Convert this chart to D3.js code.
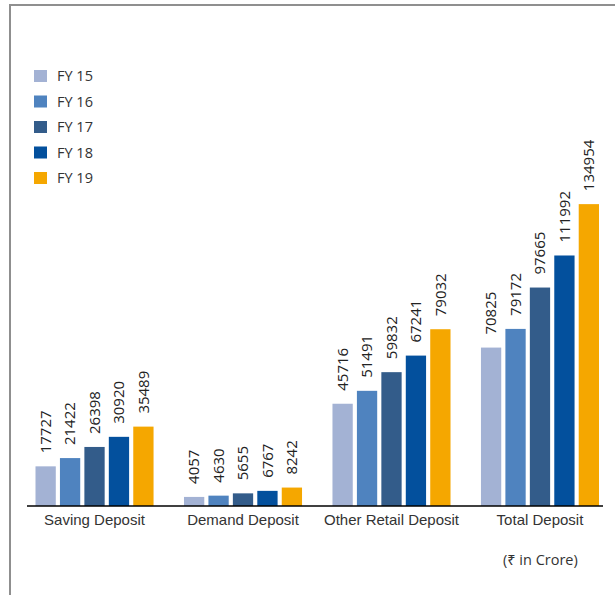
<!DOCTYPE html>
<html>
<head>
<meta charset="utf-8">
<script src="https://cdn.jsdelivr.net/npm/d3@7"></script>
<style>
  html, body { margin: 0; padding: 0; background: #fff; }
  svg { display: block; font-family: "Open Sans", "Noto Sans", "DejaVu Sans", sans-serif; }
</style>
</head>
<body>
<svg id="chart" width="615" height="595"></svg>
<script>
const categories = ["Saving Deposit", "Demand Deposit", "Other Retail Deposit", "Total Deposit"];
const seriesNames = ["FY 15", "FY 16", "FY 17", "FY 18", "FY 19"];
const fy15 = [17727, 4057, 45716, 70825];
const fy16 = [21422, 4630, 51491, 79172];
const fy17 = [26398, 5655, 59832, 97665];
const fy18 = [30920, 6767, 67241, 111992];
const fy19 = [35489, 8242, 79032, 134954];
const seriesValues = [fy15, fy16, fy17, fy18, fy19];
const colors = ["#a3b2d4", "#4f83bf", "#335c8a", "#03509d", "#f5a700"];
const unitNote = "(₹ in Crore)";

const svg = d3.select("#chart");

// frame
svg.append("path")
  .attr("d", "M10,595 L10,5 L615,5")
  .attr("fill", "none")
  .attr("stroke", "#8f8f8f")
  .attr("stroke-width", 2);

const baseY = 506;
const x0 = d3.scaleBand().domain(categories).range([35.5, 599]).paddingInner(0.205).paddingOuter(0);
const x1 = d3.scaleBand().domain(seriesNames).range([0, x0.bandwidth()]).paddingInner(0.17).paddingOuter(0);
const y = d3.scaleLinear().domain([0, 152000]).range([baseY, 166]);

const data = [];
categories.forEach((c, i) => {
  seriesNames.forEach((s, j) => {
    data.push({ cat: c, series: s, value: seriesValues[j][i], color: colors[j] });
  });
});

const g = svg.append("g");
g.selectAll("rect.bar")
  .data(data)
  .join("rect")
  .attr("class", "bar")
  .attr("x", d => x0(d.cat) + x1(d.series))
  .attr("y", d => y(d.value))
  .attr("width", x1.bandwidth())
  .attr("height", d => y(0) - y(d.value))
  .attr("fill", d => d.color);

g.selectAll("text.val")
  .data(data)
  .join("text")
  .attr("class", "val")
  .attr("transform", d => `translate(${x0(d.cat) + x1(d.series) + x1.bandwidth() / 2},${y(d.value) - 13}) rotate(-90)`)
  .attr("dy", "0.35em")
  .attr("text-anchor", "start")
  .attr("font-size", 15)
  .attr("fill", "#222")
  .text(d => d.value);

// axis
const xAxis = d3.axisBottom(x0).tickSize(0).tickPadding(8);
const ax = svg.append("g").attr("transform", `translate(0,${baseY})`).call(xAxis);
ax.select(".domain").attr("d", "M27,0H603").attr("stroke", "#000").attr("stroke-width", 1.5);
ax.selectAll("text").attr("font-size", 15).attr("fill", "#333").attr("font-family", null);

// legend
const leg = svg.append("g").attr("transform", "translate(34,70)");
const li = leg.selectAll("g").data(seriesNames).join("g")
  .attr("transform", (d, i) => `translate(0,${i * 25.5})`);
li.append("rect").attr("width", 13).attr("height", 12).attr("fill", (d, i) => colors[i]);
li.append("text").attr("x", 23).attr("y", 6).attr("dy", "0.35em")
  .attr("font-size", 14.5).attr("fill", "#333").text(d => d);

svg.append("text")
  .attr("x", 503).attr("y", 565)
  .attr("font-size", 14.5).attr("fill", "#333")
  .text(unitNote);
</script>
</body>
</html>
